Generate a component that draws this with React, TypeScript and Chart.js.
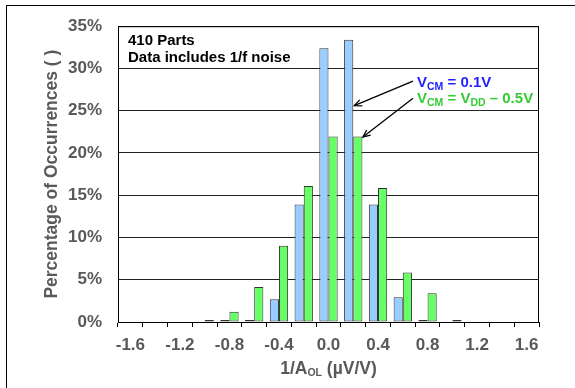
import { useEffect, useRef } from 'react';
import { Chart, registerables } from 'chart.js';

Chart.register(...registerables);

// Histogram bins of 1/A_OL (µV/V)
const categories = ['-1.6', '-1.4', '-1.2', '-1.0', '-0.8', '-0.6', '-0.4', '-0.2', '0.0', '0.2', '0.4', '0.6', '0.8', '1.0', '1.2', '1.4', '1.6'];
// Percentage of parts per bin, VCM = 0.1V
const vcmLow = [0, 0, 0, 0, 0.24, 0.24, 2.68, 13.9, 32.4, 33.4, 13.9, 2.93, 0.24, 0, 0, 0, 0];
// Percentage of parts per bin, VCM = VDD - 0.5V
const vcmHigh = [0, 0, 0, 0.24, 1.22, 4.15, 9.02, 16.1, 21.95, 21.95, 15.85, 5.85, 3.41, 0.24, 0, 0, 0];
const yMin = 0;
const yMax = 35;
const yStep = 5;

const FONT = '"Liberation Sans", Arial, Helvetica, sans-serif';
const GRAY = '#595959';
const BLUE_TEXT = '#1f1fff';
const GREEN_TEXT = '#33cc33';

type Run = { text: string; size: number; dy?: number };

function runsWidth(ctx: CanvasRenderingContext2D, runs: Run[]) {
  let w = 0;
  for (const r of runs) {
    ctx.font = `bold ${r.size}px ${FONT}`;
    w += ctx.measureText(r.text).width;
  }
  return w;
}

function drawRuns(ctx: CanvasRenderingContext2D, x: number, y: number, runs: Run[], color: string) {
  ctx.fillStyle = color;
  ctx.textAlign = 'left';
  ctx.textBaseline = 'alphabetic';
  let cx = x;
  for (const r of runs) {
    ctx.font = `bold ${r.size}px ${FONT}`;
    ctx.fillText(r.text, cx, y + (r.dy || 0));
    cx += ctx.measureText(r.text).width;
  }
}

function drawArrow(ctx: CanvasRenderingContext2D, x0: number, y0: number, x1: number, y1: number) {
  ctx.save();
  ctx.strokeStyle = '#000';
  ctx.lineWidth = 1.3;
  ctx.beginPath();
  ctx.moveTo(x0, y0);
  ctx.lineTo(x1, y1);
  ctx.stroke();
  const a = Math.atan2(y1 - y0, x1 - x0);
  const len = 8;
  const spread = 0.42;
  ctx.beginPath();
  ctx.moveTo(x1 - len * Math.cos(a - spread), y1 - len * Math.sin(a - spread));
  ctx.lineTo(x1, y1);
  ctx.lineTo(x1 - len * Math.cos(a + spread), y1 - len * Math.sin(a + spread));
  ctx.stroke();
  ctx.restore();
}

const decorations = {
  id: 'decorations',
  beforeDraw(chart: Chart) {
    const ctx = chart.ctx;
    ctx.save();
    ctx.fillStyle = '#fff';
    ctx.fillRect(0, 0, chart.width, chart.height);
    // outer frame
    ctx.strokeStyle = '#000';
    ctx.lineWidth = 1;
    ctx.strokeRect(6.5, 5.5, chart.width + 20, chart.height + 20);
    ctx.restore();
  },
  afterDatasetsDraw(chart: Chart) {
    const ctx = chart.ctx;
    const { left, right, top, bottom } = chart.chartArea;
    ctx.save();

    // plot frame
    ctx.strokeStyle = '#000';
    ctx.lineWidth = 1;
    ctx.strokeRect(left + 0.5, top + 0.5, right - left - 1, bottom - top);

    // note in the upper left
    drawRuns(ctx, left + 10, top + 18.5, [{ text: '410 Parts', size: 15 }], '#000');
    drawRuns(ctx, left + 10, top + 36, [{ text: 'Data includes 1/f noise', size: 15 }], '#000');

    // series labels
    const labelX = right - 122;
    const base1 = top + 61;
    const base2 = top + 77;
    drawRuns(ctx, labelX, base1, [
      { text: 'V', size: 15 },
      { text: 'CM', size: 10.5, dy: 3 },
      { text: ' = 0.1V', size: 15 },
    ], BLUE_TEXT);
    drawRuns(ctx, labelX, base2, [
      { text: 'V', size: 15 },
      { text: 'CM', size: 10.5, dy: 3 },
      { text: ' = V', size: 15 },
      { text: 'DD', size: 10.5, dy: 3 },
      { text: ' \u2013 0.5V', size: 15 },
    ], GREEN_TEXT);

    // arrows to the 0.2 bin bars
    const yScale = chart.scales.y;
    const blueBar: any = chart.getDatasetMeta(0).data[9];
    const greenBar: any = chart.getDatasetMeta(1).data[9];
    drawArrow(ctx, labelX - 4, base1 - 6, blueBar.x + blueBar.width / 2 + 1, yScale.getPixelForValue(25.6));
    drawArrow(ctx, labelX - 4, base2 - 5, greenBar.x + greenBar.width / 2 + 0.5, greenBar.y + 0.5);

    // y axis title
    ctx.save();
    ctx.translate(52, (top + bottom) / 2);
    ctx.rotate(-Math.PI / 2);
    ctx.font = `bold 17.5px ${FONT}`;
    ctx.fillStyle = GRAY;
    ctx.textAlign = 'center';
    ctx.textBaseline = 'middle';
    ctx.fillText('Percentage of Occurrences ( )', 0, 0);
    ctx.restore();

    // x axis title
    const xRuns: Run[] = [
      { text: '1/A', size: 17.5 },
      { text: 'OL', size: 10.5, dy: 2 },
      { text: ' (\u00b5V/V)', size: 17.5 },
    ];
    const w = runsWidth(ctx, xRuns);
    drawRuns(ctx, (left + right) / 2 - w / 2, bottom + 52, xRuns, GRAY);

    ctx.restore();
  },
};

export default function App() {
  const canvasRef = useRef<HTMLCanvasElement | null>(null);

  useEffect(() => {
    const canvas = canvasRef.current;
    if (!canvas) return;
    const chart = new Chart(canvas, {
      type: 'bar',
      data: {
        labels: categories,
        datasets: [
          {
            label: 'VCM = 0.1V',
            data: vcmLow,
            backgroundColor: '#99ccff',
            borderColor: '#333333',
            borderWidth: 1,
            borderSkipped: false,
          },
          {
            label: 'VCM = VDD - 0.5V',
            data: vcmHigh,
            backgroundColor: '#66ff66',
            borderColor: '#333333',
            borderWidth: 1,
            borderSkipped: false,
          },
        ],
      },
      options: {
        responsive: false,
        animation: false,
        layout: { padding: { left: 0, top: 25, right: 36, bottom: 0 } },
        datasets: {
          bar: { categoryPercentage: 0.74, barPercentage: 1.0 },
        },
        plugins: {
          legend: { display: false },
          tooltip: { enabled: false },
        },
        scales: {
          x: {
            type: 'category',
            offset: true,
            grid: {
              offset: true,
              drawOnChartArea: false,
              drawTicks: true,
              tickLength: 5,
              color: '#000',
            },
            border: { display: true, color: '#000' },
            ticks: {
              autoSkip: false,
              maxRotation: 0,
              minRotation: 0,
              padding: 8,
              color: GRAY,
              font: { family: FONT, size: 17, weight: 'bold' },
              callback: (_v: any, i: number) => (i % 2 === 0 ? categories[i] : ''),
            },
            afterFit: (scale: any) => {
              scale.height = 66;
            },
          },
          y: {
            min: yMin,
            max: yMax,
            grid: { drawTicks: false, color: '#222', lineWidth: 1 },
            border: { display: false },
            ticks: {
              stepSize: yStep,
              padding: 16,
              color: GRAY,
              font: { family: FONT, size: 17, weight: 'bold' },
              callback: (v: any) => `${v}%`,
            },
            afterFit: (scale: any) => {
              scale.width = 118;
            },
          },
        },
      },
      plugins: [decorations],
    });
    return () => chart.destroy();
  }, []);

  return (
    <div style={{ position: 'fixed', left: 0, top: 0, width: 575, height: 388, background: '#fff' }}>
      <canvas ref={canvasRef} width={575} height={388} />
    </div>
  );
}
